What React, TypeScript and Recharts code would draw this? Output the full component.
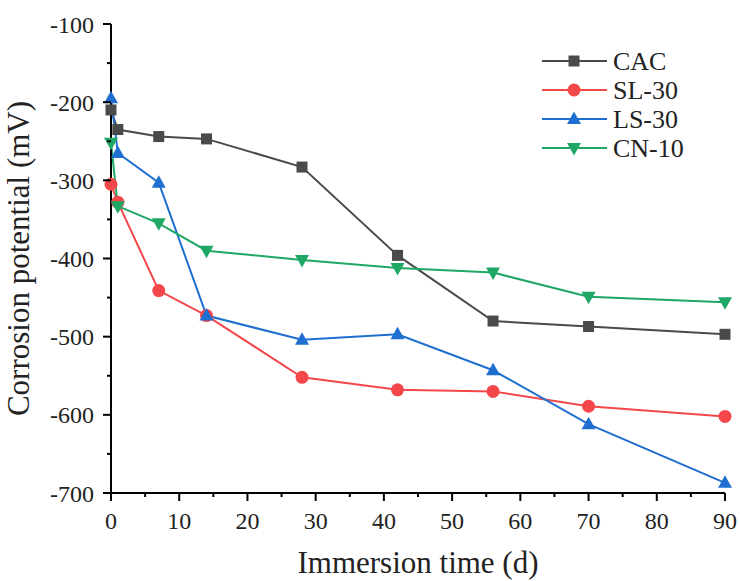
import React from "react";
import { LineChart, Line, XAxis, YAxis, Legend, Text } from "recharts";

const days = [0, 1, 7, 14, 28, 42, 56, 70, 90];
const cac = [-210, -235, -244, -247, -283, -396, -480, -487, -497];
const sl30 = [-305, -328, -441, -473, -552, -568, -570, -589, -602];
const ls30 = [-195, -265, -303, -473, -504, -497, -543, -612, -687];
const cn10 = [-252, -333, -355, -390, -402, -412, -418, -449, -456];

const xTicks = [0, 5, 10, 15, 20, 25, 30, 35, 40, 45, 50, 55, 60, 65, 70, 75, 80, 85, 90];
const yTicks = [-700, -650, -600, -550, -500, -450, -400, -350, -300, -250, -200, -150, -100];

const series = [
  { key: "CAC", values: cac, color: "#4a4a4a", shape: "square" },
  { key: "SL-30", values: sl30, color: "#f4474a", shape: "circle" },
  { key: "LS-30", values: ls30, color: "#1f6fd0", shape: "up" },
  { key: "CN-10", values: cn10, color: "#1ea765", shape: "down" },
];

const data = days.map((d, i) => {
  const row: any = { day: d };
  series.forEach((s) => (row[s.key] = s.values[i]));
  return row;
});

const FONT = "Liberation Serif";

function Marker({ cx, cy, shape, color }: any) {
  if (cx == null || cy == null) return null;
  if (shape === "square") return <rect x={cx - 5.5} y={cy - 5.5} width={11} height={11} fill={color} />;
  if (shape === "circle") return <circle cx={cx} cy={cy} r={6.5} fill={color} />;
  if (shape === "up")
    return <polygon points={`${cx},${cy - 7.5} ${cx - 7},${cy + 5} ${cx + 7},${cy + 5}`} fill={color} />;
  return <polygon points={`${cx},${cy + 7.5} ${cx - 7},${cy - 5} ${cx + 7},${cy - 5}`} fill={color} />;
}

const YTick = (props: any) => {
  const { x, y, payload } = props;
  const major = payload.value % 100 === 0;
  return (
    <g>
      <line x1={x - (major ? 8 : 4)} x2={x} y1={y} y2={y} stroke="#000" strokeWidth={2} />
      {major && (
        <Text x={x - 17} y={y} textAnchor="end" verticalAnchor="middle" fontFamily={FONT} fontSize={24} fill="#222">
          {String(payload.value)}
        </Text>
      )}
    </g>
  );
};

const XTick = (props: any) => {
  const { x, y, payload } = props;
  const major = payload.value % 10 === 0;
  return (
    <g>
      <line x1={x} x2={x} y1={y} y2={y + (major ? 8 : 4)} stroke="#000" strokeWidth={2} />
      {major && (
        <Text x={x} y={y + 36} textAnchor="middle" verticalAnchor="end" fontFamily={FONT} fontSize={24} fill="#222">
          {String(payload.value)}
        </Text>
      )}
    </g>
  );
};

const LegendContent = () => (
  <svg width={180} height={130} style={{ fontFamily: FONT }}>
    {series.map((s, i) => {
      const cy = 15 + i * 29;
      return (
        <g key={s.key}>
          <line x1={0} x2={65} y1={cy} y2={cy} stroke={s.color} strokeWidth={2} />
          <Marker cx={32} cy={cy} shape={s.shape} color={s.color} />
          <Text x={71} y={cy} verticalAnchor="middle" fontFamily={FONT} fontSize={26} fill="#222">
            {s.key}
          </Text>
        </g>
      );
    })}
  </svg>
);

export default function App() {
  return (
    <div style={{ position: "absolute", left: 0, top: 0, width: 740, height: 581, background: "#fff", fontFamily: FONT }}>
      <LineChart width={740} height={581} data={data} margin={{ top: 24, right: 15, bottom: 0, left: 0 }} style={{ fontFamily: FONT }}>
        <XAxis
          dataKey="day"
          type="number"
          domain={[0, 90]}
          ticks={xTicks}
          interval={0}
          tick={<XTick />}
          tickLine={false}
          tickSize={0}
          tickMargin={0}
          height={88}
          axisLine={{ stroke: "#000", strokeWidth: 2 }}
          label={{ value: "Immersion time (d)", position: "insideBottom", offset: 8, fontFamily: FONT, fontSize: 31, fill: "#222" }}
        />
        <XAxis xAxisId="top" orientation="top" dataKey="day" type="number" domain={[0, 90]} height={0} tick={false} tickLine={false} axisLine={{ stroke: "#000", strokeWidth: 2 }} />
        <YAxis
          type="number"
          domain={[-700, -100]}
          ticks={yTicks}
          interval={0}
          tick={<YTick />}
          tickLine={false}
          tickSize={0}
          tickMargin={0}
          width={111}
          axisLine={{ stroke: "#000", strokeWidth: 2 }}
          label={{ value: "Corrosion potential (mV)", angle: -90, position: "insideLeft", offset: 18, style: { textAnchor: "middle" }, fontFamily: FONT, fontSize: 31, fill: "#222" }}
        />
        <YAxis yAxisId="right" orientation="right" type="number" domain={[-700, -100]} width={0} tick={false} tickLine={false} axisLine={{ stroke: "#000", strokeWidth: 2 }} />
        {series.map((s) => (
          <Line
            key={s.key}
            dataKey={s.key}
            stroke={s.color}
            strokeWidth={2}
            isAnimationActive={false}
            dot={(p: any) => <Marker key={p.index} cx={p.cx} cy={p.cy} shape={s.shape} color={s.color} />}
            activeDot={false}
          />
        ))}
        <Legend
          layout="horizontal"
          align="center"
          verticalAlign="middle"
          content={<LegendContent />}
          wrapperStyle={{ left: 542, top: 46, width: 180, height: 130 }}
        />
      </LineChart>
    </div>
  );
}
